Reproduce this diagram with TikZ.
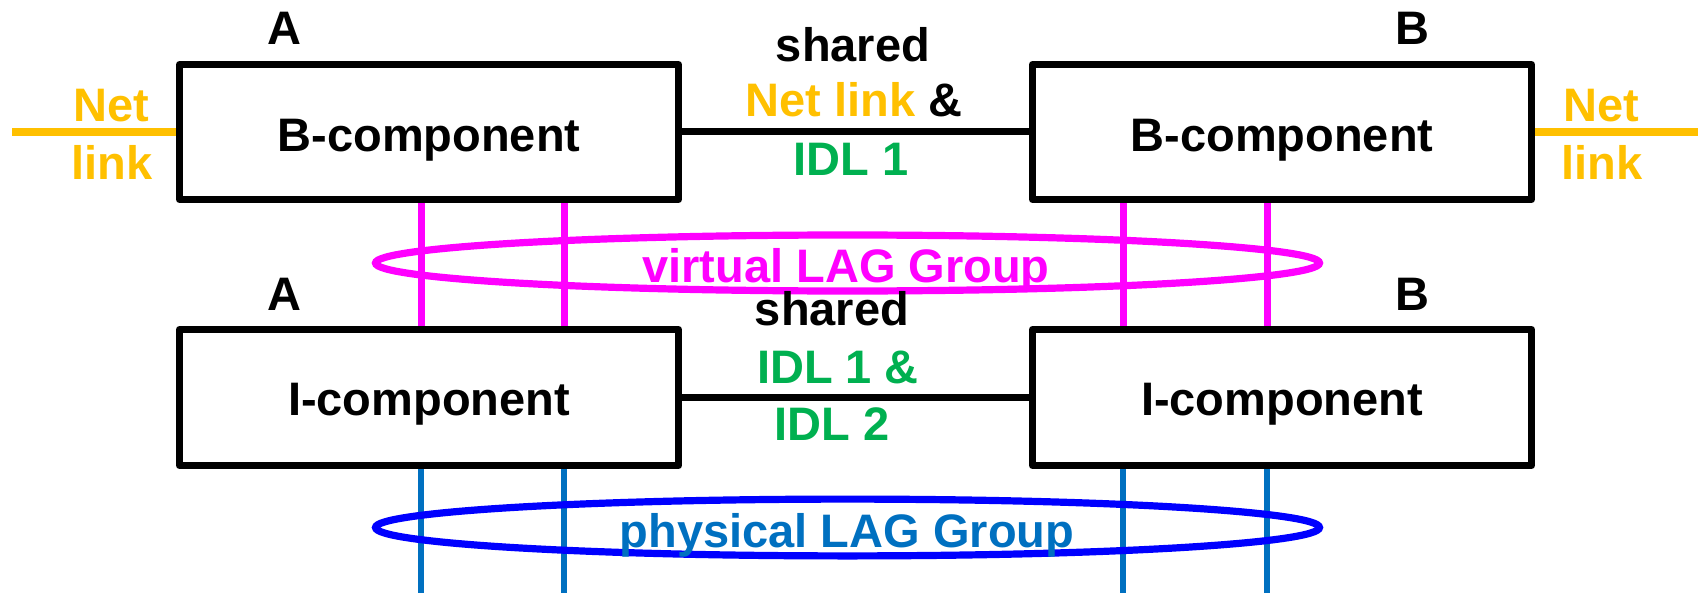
\documentclass[tikz,border=0pt]{standalone}
\usepackage{fontspec}
\setmainfont{Liberation Sans}
\definecolor{netorange}{HTML}{FFC000}
\definecolor{idlgreen}{HTML}{00B050}
\definecolor{vmag}{HTML}{FF00FF}
\definecolor{pblue}{HTML}{0000FF}
\definecolor{lblue}{HTML}{0070C0}
\tikzset{
  lbl/.style={anchor=base, inner sep=0pt, font=\fontsize{23.5pt}{28pt}\selectfont\bfseries},
  compbox/.style={draw=black, line width=3.5pt, line join=round, rectangle, minimum width=249.5pt, inner sep=0pt, text depth=0pt, font=\fontsize{23.5pt}{28pt}\selectfont\bfseries},
  topbox/.style={compbox, minimum height=67.5pt, text height=20pt},
  lowbox/.style={compbox, minimum height=68pt, text height=17.5pt},
  link/.style={draw=black, line width=3.5pt},
  netline/.style={draw=netorange, line width=4pt},
  vline/.style={draw=vmag, line width=3.5pt},
  pline/.style={draw=lblue, line width=3.2pt},
  lag/.style={line width=3.6pt}
}
\begin{document}
\begin{tikzpicture}[x=0.5pt, y=-0.5pt]
\useasboundingbox (0,0) rectangle (1700,593);
% boxes
\node[topbox] (bA) at (429,132) {B-component};
\node[topbox] (bB) at (1282,132) {B-component};
\node[lowbox] (iA) at (429,397.5) {I-component};
\node[lowbox] (iB) at (1282,397.5) {I-component};
% links between boxes
\draw[link] (bA.east) -- (bB.west);
\draw[link] (iA.east) -- (iB.west);
% net links
\coordinate (nl) at (12,132);
\coordinate (nr) at (1698,132);
\draw[netline] (nl) -- (bA.west);
\draw[netline] (bB.east) -- (nr);
% vertical columns
\coordinate (c1) at (421,0);
\coordinate (c2) at (564,0);
\coordinate (c3) at (1123,0);
\coordinate (c4) at (1267,0);
\coordinate (bot) at (0,593);
\foreach \c/\u/\l in {c1/bA/iA, c2/bA/iA, c3/bB/iB, c4/bB/iB}{
  \draw[vline] (\u.south -| \c) -- (\l.north -| \c);
  \draw[pline] (\l.south -| \c) -- (bot -| \c);
}
% LAG ellipses
\coordinate (vc) at (847.5,263);
\coordinate (pc) at (847.5,527.5);
\draw[lag, draw=vmag] (vc) ellipse [x radius=236pt, y radius=14pt];
\draw[lag, draw=pblue] (pc) ellipse [x radius=236pt, y radius=14.2pt];
\node[lbl, text=vmag] (vt) at (846,282) {virtual LAG Group};
\node[lbl, text=lblue] (pt) at (847,547) {physical LAG Group};
% side labels
\node[lbl] (la1) at (284,45) {A};
\node[lbl] (lb1) at (1412,45) {B};
\node[lbl] (la2) at (284,310) {A};
\node[lbl] (lb2) at (1412,310) {B};
% middle labels
\node[lbl] (s1) at (853,62) {shared};
\node[lbl] (s2) at (854,117) {\textcolor{netorange}{Net link} \&};
\node[lbl, text=idlgreen] (s3) at (851,176) {IDL 1};
\node[lbl] (t1) at (832,325) {shared};
\node[lbl, text=idlgreen] (t2) at (838,383) {IDL 1 \&};
\node[lbl, text=idlgreen] (t3) at (832,440) {IDL 2};
% net link labels
\node[lbl, text=netorange] (n1) at (111,122) {Net};
\node[lbl, text=netorange] (n2) at (112,180) {link};
\node[lbl, text=netorange] (n3) at (1601,122) {Net};
\node[lbl, text=netorange] (n4) at (1602,180) {link};
\end{tikzpicture}
\end{document}
